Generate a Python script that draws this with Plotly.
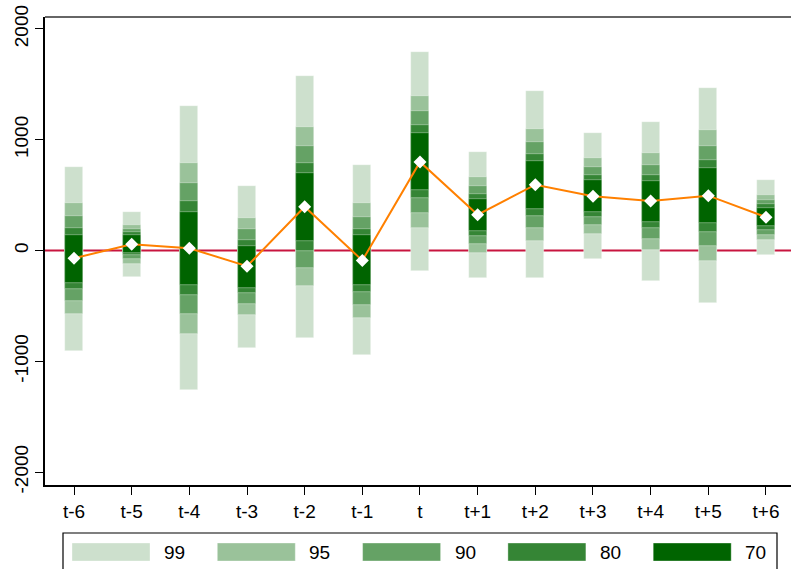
import plotly.graph_objects as go

periods = ["t-6", "t-5", "t-4", "t-3", "t-2", "t-1", "t", "t+1", "t+2", "t+3", "t+4", "t+5", "t+6"]
estimate = [-70, 57, 21, -142, 395, -90, 800, 323, 594, 490, 446, 495, 301]

y_ticks = [-2000, -1000, 0, 1000, 2000]
y_tick_labels = ["-2000", "-1000", "0", "1000", "2000"]

levels = ["99", "95", "90", "80", "70"]
upper_99 = [756, 350, 1301, 584, 1578, 768, 1792, 892, 1436, 1060, 1163, 1470, 639]
lower_99 = [-903, -235, -1258, -876, -791, -945, -186, -244, -249, -75, -271, -475, -39]
upper_95 = [428, 232, 792, 295, 1111, 428, 1397, 666, 1099, 835, 876, 1084, 503]
lower_95 = [-575, -120, -750, -584, -322, -605, 205, -21, 88, 148, 9, -93, 97]
upper_90 = [311, 193, 612, 193, 946, 307, 1262, 584, 982, 756, 774, 946, 458]
lower_90 = [-457, -78, -569, -484, -154, -488, 343, 61, 202, 229, 108, 42, 142]
upper_80 = [205, 163, 449, 99, 790, 196, 1133, 512, 874, 684, 684, 819, 416]
lower_80 = [-352, -42, -406, -388, 0, -373, 470, 133, 313, 307, 205, 169, 187]
upper_70 = [142, 142, 352, 45, 702, 136, 1057, 467, 808, 639, 632, 747, 386]
lower_70 = [-289, -23, -310, -337, 88, -310, 548, 178, 377, 347, 259, 250, 217]

uppers = [upper_99, upper_95, upper_90, upper_80, upper_70]
lowers = [lower_99, lower_95, lower_90, lower_80, lower_70]
colors = ["#cde0cd", "#9ac29a", "#65a265", "#358535", "#006400"]

x = list(range(len(periods)))
fig = go.Figure()
for lvl, up, lo, col in zip(levels, uppers, lowers, colors):
    fig.add_trace(go.Bar(
        x=x, base=lo, y=[u - l for u, l in zip(up, lo)],
        width=0.31, marker=dict(color=col, line=dict(width=0.6, color="rgba(255,255,255,0.6)")),
        name=lvl, showlegend=False,
    ))

fig.add_hline(y=0, line=dict(color="#c8153f", width=2), layer="below")

fig.add_trace(go.Scatter(
    x=x, y=estimate, mode="lines+markers",
    line=dict(color="#ff8000", width=2),
    marker=dict(symbol="diamond", size=10, color="white", line=dict(width=0)),
    showlegend=False,
))

font = dict(family="Liberation Sans, Arial, sans-serif", size=19, color="black")

# top border
fig.add_shape(type="line", xref="paper", yref="paper", x0=0, x1=1, y0=1, y1=1,
              line=dict(color="#666666", width=2))

# custom legend (positions in pixels converted to paper coordinates)
L, T, W, H = 45, 17, 746, 468
def px(v):
    return (v - L) / W
def py(v):
    return (T + H - v) / H

fig.add_shape(type="rect", xref="paper", yref="paper",
              x0=px(63), x1=px(777), y0=py(533), y1=py(580),
              line=dict(color="black", width=1.2), fillcolor="white")
for i, (lvl, col) in enumerate(zip(levels, colors)):
    sx = 72 + i * 145.3
    fig.add_shape(type="rect", xref="paper", yref="paper",
                  x0=px(sx), x1=px(sx + 78), y0=py(561), y1=py(543),
                  line=dict(color="rgba(255,255,255,0.6)", width=0.6), fillcolor=col)
    fig.add_annotation(xref="paper", yref="paper", x=px(sx + 90), y=py(552),
                       text=lvl, showarrow=False, xanchor="left", yanchor="middle", font=font)

fig.update_layout(
    width=791, height=569,
    margin=dict(l=L, r=0, t=T, b=569 - T - H, autoexpand=False),
    plot_bgcolor="white", paper_bgcolor="white",
    barmode="overlay", bargap=0,
    font=font,
)
fig.update_xaxes(
    range=[-0.503, 12.434], tickvals=x, ticktext=periods, automargin=False,
    showgrid=False, zeroline=False, showline=True, linecolor="black", linewidth=1.5,
    ticks="outside", ticklen=8, tickcolor="black", tickwidth=1.2, tickfont=font,
)
fig.update_yaxes(
    range=[-2117, 2108], tickvals=y_ticks, ticktext=y_tick_labels, automargin=False,
    tickangle=-90, showgrid=False, zeroline=False, showline=True, linecolor="black", linewidth=1.5,
    ticks="outside", ticklen=8, tickcolor="black", tickwidth=1.2, tickfont=font,
)

fig.write_html("out.html", config={"displayModeBar": False},
               post_script="document.body.style.margin='0';document.body.style.overflow='hidden';")
